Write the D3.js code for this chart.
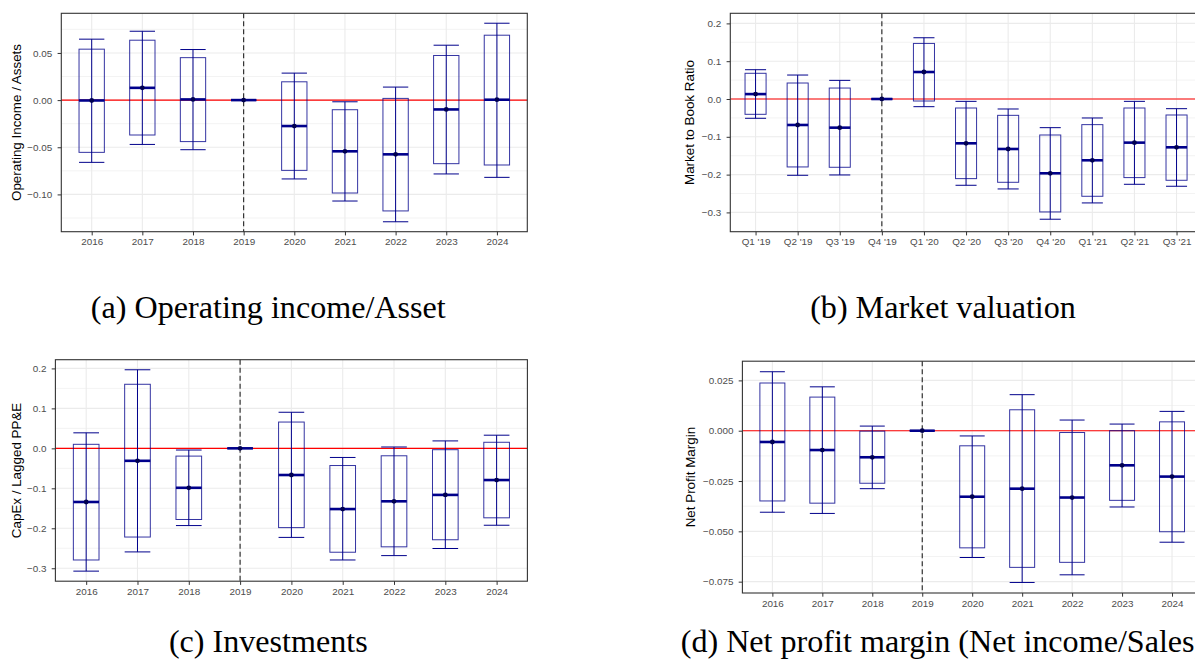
<!DOCTYPE html>
<html>
<head>
<meta charset="utf-8">
<script src="https://cdn.jsdelivr.net/npm/d3@7"></script>
<style>
  body { margin: 0; background: #fff; }
  svg { display: block; }
</style>
</head>
<body>
<svg id="chart" width="1195" height="668"></svg>
<script>
// categories
var yearLabels = ['2016', '2017', '2018', '2019', '2020', '2021', '2022', '2023', '2024'];
var quarterLabels = ["Q1 '19", "Q2 '19", "Q3 '19", "Q4 '19", "Q1 '20", "Q2 '20", "Q3 '20", "Q4 '20", "Q1 '21", "Q2 '21", "Q3 '21"];

// (a) operating income / assets
var oiEst     = [-0.0004, 0.0130, 0.0007, 0, -0.0275, -0.0543, -0.0575, -0.0099, 0.0004];
var oiBoxLow  = [-0.0554, -0.0370, -0.0440, 0, -0.0745, -0.0985, -0.1175, -0.0674, -0.0688];
var oiBoxHigh = [0.0540, 0.0635, 0.0450, 0, 0.0194, -0.0102, 0.0018, 0.0473, 0.0688];
var oiLow     = [-0.0660, -0.0470, -0.0526, 0, -0.0836, -0.1070, -0.1290, -0.0783, -0.0819];
var oiHigh    = [0.0646, 0.0730, 0.0536, 0, 0.0286, -0.0018, 0.0138, 0.0582, 0.0815];
var oiTicks   = [-0.10, -0.05, 0.00, 0.05];

// (b) market to book
var mbEst     = [0.0130, -0.0687, -0.0758, 0, 0.0714, -0.1172, -0.1322, -0.1965, -0.1621, -0.1154, -0.1278];
var mbBoxLow  = [-0.0405, -0.1797, -0.1806, 0, -0.0053, -0.2106, -0.2203, -0.2987, -0.2573, -0.2079, -0.2150];
var mbBoxHigh = [0.0680, 0.0423, 0.0290, 0, 0.1470, -0.0238, -0.0432, -0.0952, -0.0678, -0.0238, -0.0423];
var mbLow     = [-0.0510, -0.2018, -0.2009, 0, -0.0203, -0.2282, -0.2379, -0.3180, -0.2749, -0.2256, -0.2308];
var mbHigh    = [0.0775, 0.0634, 0.0493, 0, 0.1620, -0.0062, -0.0264, -0.0758, -0.0502, -0.0062, -0.0256];
var mbTicks   = [-0.3, -0.2, -0.1, 0.0, 0.1, 0.2];
var mbLimits  = [-0.351, 0.2267];

// (c) capex / lagged PP&E
var cxEst     = [-0.1342, -0.0312, -0.0987, 0, -0.0667, -0.1519, -0.1325, -0.1165, -0.0793];
var cxBoxLow  = [-0.2793, -0.2219, -0.1780, 0, -0.1983, -0.2599, -0.2464, -0.2287, -0.1738];
var cxBoxHigh = [0.0101, 0.1603, -0.0194, 0, 0.0658, -0.0430, -0.0186, -0.0034, 0.0152];
var cxLow     = [-0.3072, -0.2591, -0.1932, 0, -0.2228, -0.2793, -0.2684, -0.2506, -0.1924];
var cxHigh    = [0.0388, 0.1966, -0.0042, 0, 0.0903, -0.0228, 0.0034, 0.0186, 0.0329];
var cxTicks   = [-0.3, -0.2, -0.1, 0.0, 0.1, 0.2];

// (d) net profit margin
var npEst     = [-0.0056, -0.0096, -0.0132, 0, -0.0328, -0.0288, -0.0332, -0.0172, -0.0228];
var npBoxLow  = [-0.0349, -0.0360, -0.0261, 0, -0.0582, -0.0679, -0.0654, -0.0346, -0.0502];
var npBoxHigh = [0.0237, 0.0167, -0.0002, 0, -0.0075, 0.0104, -0.0009, 0.0000, 0.0044];
var npLow     = [-0.0405, -0.0411, -0.0288, 0, -0.0630, -0.0754, -0.0716, -0.0379, -0.0554];
var npHigh    = [0.0293, 0.0218, 0.0023, 0, -0.0026, 0.0179, 0.0053, 0.0033, 0.0096];
var npTicks   = [-0.075, -0.050, -0.025, 0.000, 0.025];

var captions = ['(a) Operating income/Asset', '(b) Market valuation', '(c) Investments', '(d) Net profit margin (Net income/Sales)'];

var svg = d3.select('#chart');
var blue = '#00008B';

var panels = [
  { cats: yearLabels, est: oiEst, boxLow: oiBoxLow, boxHigh: oiBoxHigh, low: oiLow, high: oiHigh,
    ticks: oiTicks, fmt: '.2f', ref: '2019', title: 'Operating Income / Assets',
    left: 61.3, right: 527.3, top: 13.3, bottom: 231.7, titleX: 17 },
  { cats: quarterLabels, est: mbEst, boxLow: mbBoxLow, boxHigh: mbBoxHigh, low: mbLow, high: mbHigh,
    ticks: mbTicks, fmt: '.1f', ref: "Q4 '19", title: 'Market to Book Ratio', limits: mbLimits,
    left: 730.3, right: 1201.8, top: 13.3, bottom: 231.7, titleX: 690.3 },
  { cats: yearLabels, est: cxEst, boxLow: cxBoxLow, boxHigh: cxBoxHigh, low: cxLow, high: cxHigh,
    ticks: cxTicks, fmt: '.1f', ref: '2019', title: 'CapEx / Lagged PP&E',
    left: 55.4, right: 527.4, top: 359.7, bottom: 581.2, titleX: 17 },
  { cats: yearLabels, est: npEst, boxLow: npBoxLow, boxHigh: npBoxHigh, low: npLow, high: npHigh,
    ticks: npTicks, fmt: '.3f', ref: '2019', title: 'Net Profit Margin',
    left: 742.4, right: 1202, top: 361.2, bottom: 593, titleX: 691.3 }
];

function drawPanel(p) {
  var g = svg.append('g');
  var x = d3.scalePoint().domain(p.cats).range([p.left, p.right]).padding(0.6);
  var lo = d3.min(p.low), hi = d3.max(p.high);
  var dom = p.limits || [lo - 0.05 * (hi - lo), hi + 0.05 * (hi - lo)];
  var y = d3.scaleLinear().domain(dom).range([p.bottom, p.top]);
  var half = x.step() * 0.25;

  // grid: minor then major
  var step = p.ticks[1] - p.ticks[0];
  var minor = [p.ticks[0] - step / 2].concat(p.ticks.map(function(t) { return t + step / 2; }))
    .filter(function(v) { return v > dom[0] && v < dom[1]; });
  g.selectAll('line.minor').data(minor).enter().append('line')
    .attr('x1', p.left).attr('x2', p.right)
    .attr('y1', function(d) { return y(d); }).attr('y2', function(d) { return y(d); })
    .attr('stroke', '#EBEBEB').attr('stroke-width', 0.6);
  g.selectAll('line.majory').data(p.ticks).enter().append('line')
    .attr('x1', p.left).attr('x2', p.right)
    .attr('y1', function(d) { return y(d); }).attr('y2', function(d) { return y(d); })
    .attr('stroke', '#EBEBEB').attr('stroke-width', 1.1);
  g.selectAll('line.majorx').data(p.cats).enter().append('line')
    .attr('x1', function(d) { return x(d); }).attr('x2', function(d) { return x(d); })
    .attr('y1', p.top).attr('y2', p.bottom)
    .attr('stroke', '#EBEBEB').attr('stroke-width', 1.1);

  // reference lines
  g.append('line')
    .attr('x1', p.left).attr('x2', p.right).attr('y1', y(0)).attr('y2', y(0))
    .attr('stroke', 'red').attr('stroke-width', 1.1);
  g.append('line')
    .attr('x1', x(p.ref)).attr('x2', x(p.ref)).attr('y1', p.top).attr('y2', p.bottom)
    .attr('stroke', '#222').attr('stroke-width', 1.1).attr('stroke-dasharray', '5,3');

  var items = g.selectAll('g.item').data(p.cats).enter().append('g');

  // whiskers
  items.append('line')
    .attr('x1', function(d) { return x(d); }).attr('x2', function(d) { return x(d); })
    .attr('y1', function(d, i) { return y(p.low[i]); }).attr('y2', function(d, i) { return y(p.high[i]); })
    .attr('stroke', blue).attr('stroke-width', 1);
  items.append('line')
    .attr('x1', function(d) { return x(d) - half; }).attr('x2', function(d) { return x(d) + half; })
    .attr('y1', function(d, i) { return y(p.low[i]); }).attr('y2', function(d, i) { return y(p.low[i]); })
    .attr('stroke', blue).attr('stroke-width', 1);
  items.append('line')
    .attr('x1', function(d) { return x(d) - half; }).attr('x2', function(d) { return x(d) + half; })
    .attr('y1', function(d, i) { return y(p.high[i]); }).attr('y2', function(d, i) { return y(p.high[i]); })
    .attr('stroke', blue).attr('stroke-width', 1);

  // boxes
  items.append('rect')
    .attr('x', function(d) { return x(d) - half; })
    .attr('width', half * 2)
    .attr('y', function(d, i) { return y(p.boxHigh[i]); })
    .attr('height', function(d, i) { return y(p.boxLow[i]) - y(p.boxHigh[i]); })
    .attr('fill', 'none').attr('stroke', blue).attr('stroke-opacity', 0.8).attr('stroke-width', 1);

  // estimates
  items.append('line')
    .attr('x1', function(d) { return x(d) - half; }).attr('x2', function(d) { return x(d) + half; })
    .attr('y1', function(d, i) { return y(p.est[i]); }).attr('y2', function(d, i) { return y(p.est[i]); })
    .attr('stroke', blue).attr('stroke-width', 2.6);
  items.append('circle')
    .attr('cx', function(d) { return x(d); })
    .attr('cy', function(d, i) { return y(p.est[i]); })
    .attr('r', 2.4).attr('fill', '#000050');

  // axes
  var yAxis = g.append('g').attr('transform', 'translate(' + p.left + ',0)')
    .call(d3.axisLeft(y).tickValues(p.ticks).tickFormat(d3.format(p.fmt)).tickSize(3.7).tickPadding(5.3));
  var xAxis = g.append('g').attr('transform', 'translate(0,' + p.bottom + ')')
    .call(d3.axisBottom(x).tickSize(3.7).tickPadding(3));
  [yAxis, xAxis].forEach(function(a) {
    a.select('.domain').remove();
    a.selectAll('line').attr('stroke', '#333').attr('stroke-width', 1);
    a.selectAll('text').attr('fill', '#4D4D4D')
      .style('font-family', 'Liberation Sans, Arial, sans-serif').style('font-size', '9.9px');
  });

  g.append('rect')
    .attr('x', p.left).attr('y', p.top)
    .attr('width', p.right - p.left).attr('height', p.bottom - p.top)
    .attr('fill', 'none').attr('stroke', '#333').attr('stroke-width', 1.1);

  g.append('text')
    .attr('transform', 'translate(' + p.titleX + ',' + ((p.top + p.bottom) / 2) + ') rotate(-90)')
    .attr('text-anchor', 'middle').attr('dy', '0.3em')
    .style('font-family', 'Liberation Sans, Arial, sans-serif').style('font-size', '13.4px')
    .attr('fill', '#000')
    .text(p.title);
}

panels.forEach(drawPanel);

// sub-captions, sized so caption (a) spans the same width as in the source
var capPos = [[268.3, 318], [943, 318], [268.3, 652], [943, 652]];
var probe = svg.append('text').style('font-family', 'Liberation Serif, serif').style('font-size', '100px').text(captions[0]);
var capSize = 100 * 355 / probe.node().getComputedTextLength();
probe.remove();
svg.selectAll('text.caption').data(captions).enter().append('text')
  .attr('class', 'caption')
  .attr('x', function(d, i) { return capPos[i][0]; })
  .attr('y', function(d, i) { return capPos[i][1]; })
  .attr('text-anchor', 'middle')
  .style('font-family', 'Liberation Serif, serif')
  .style('font-size', capSize + 'px')
  .attr('fill', '#000')
  .text(function(d) { return d; });
</script>
</body>
</html>
